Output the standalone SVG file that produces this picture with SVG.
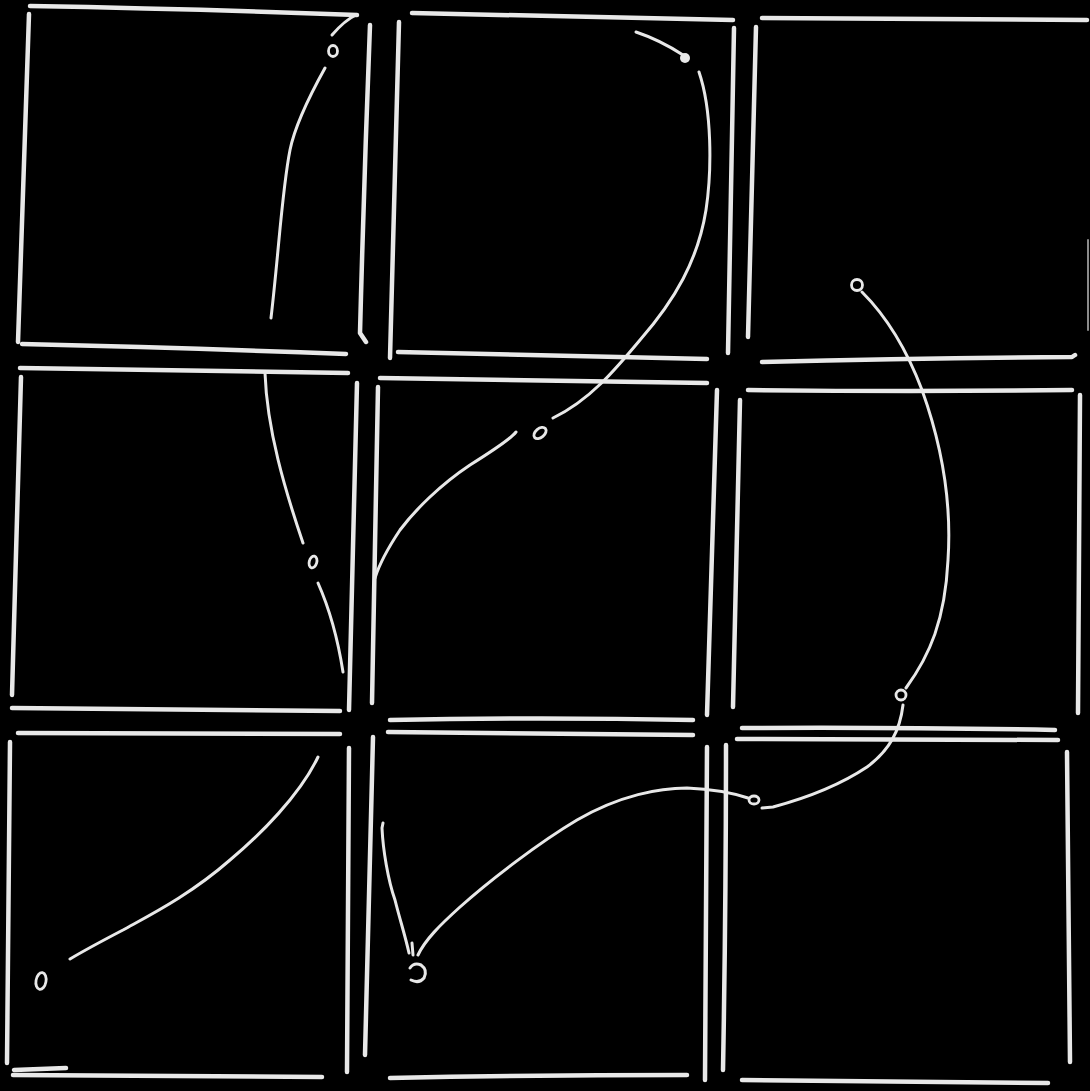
<svg xmlns="http://www.w3.org/2000/svg" width="1090" height="1091" viewBox="0 0 1090 1091">
  <style>
    .ln { fill: none; stroke: #e8e8e8; stroke-width: 4.5; stroke-linecap: round; stroke-linejoin: round; }
    .cv { fill: none; stroke: #e8e8e8; stroke-width: 3; stroke-linecap: round; stroke-linejoin: round; }
    .dot { fill: none; stroke: #e8e8e8; stroke-width: 2.8; }
  </style>
  <rect x="0" y="0" width="1090" height="1091" fill="#000"/>

  <g id="cell-1" class="ln">
    <path d="M30,6 Q200,9 357,15"/>
    <path d="M29,14 Q24,180 18,342"/>
    <path d="M22,344 Q190,348 346,354"/>
    <path d="M370,25 Q364,180 360,333 L366,342"/>
  </g>
  <g id="cell-2" class="ln">
    <path d="M412,13 Q580,16 733,20"/>
    <path d="M399,22 Q394,190 390,358"/>
    <path d="M398,352 Q560,356 707,359"/>
    <path d="M734,28 Q731,190 728,353"/>
  </g>
  <g id="cell-3" class="ln">
    <path d="M762,18 Q920,19 1087,20"/>
    <path d="M756,27 Q752,180 748,337"/>
    <path d="M762,362 Q920,358 1072,357 L1075,355"/>
    <path d="M1088,240 L1088,330" stroke-width="2" opacity="0.6"/>
  </g>
  <g id="cell-4" class="ln">
    <path d="M20,368 Q180,370 348,373"/>
    <path d="M21,377 Q16,540 12,695"/>
    <path d="M12,708 Q180,709 340,711"/>
    <path d="M357,383 Q353,550 349,710"/>
  </g>
  <g id="cell-5" class="ln">
    <path d="M380,378 Q540,380 707,383"/>
    <path d="M378,387 Q375,545 372,703"/>
    <path d="M717,390 Q712,550 707,715"/>
    <path d="M390,720 Q540,717 693,720"/>
  </g>
  <g id="cell-6" class="ln">
    <path d="M748,390 Q910,392 1072,390"/>
    <path d="M740,400 Q737,555 733,707"/>
    <path d="M1080,395 Q1079,555 1078,713"/>
    <path d="M742,728 Q900,727 1055,730"/>
  </g>
  <g id="cell-7" class="ln">
    <path d="M18,733 Q180,733 340,734"/>
    <path d="M10,742 Q8,900 7,1063"/>
    <path d="M349,748 Q348,910 347,1072"/>
    <path d="M13,1075 Q170,1076 322,1077"/>
    <path d="M14,1070 L66,1068"/>
  </g>
  <g id="cell-8" class="ln">
    <path d="M388,732 Q540,734 693,735"/>
    <path d="M373,737 Q369,895 365,1055"/>
    <path d="M707,747 Q706,915 705,1080"/>
    <path d="M390,1078 Q540,1075 687,1075"/>
  </g>
  <g id="cell-9" class="ln">
    <path d="M737,739 Q900,739 1058,740"/>
    <path d="M726,745 Q726,905 723,1070"/>
    <path d="M1067,752 Q1069,905 1070,1062"/>
    <path d="M742,1080 Q895,1081 1048,1083"/>
  </g>

  <g id="connectors">
    <!-- top-left curve -->
    <path class="cv" d="M356,15 Q345,20 332,35"/>
    <ellipse class="dot" cx="333" cy="51" rx="4.5" ry="5.5"/>
    <path class="cv" d="M325,68 C310,95 295,125 290,150 C282,190 279,250 271,318"/>
    <!-- middle-left curve -->
    <path class="cv" d="M265,373 C267,430 285,490 303,543"/>
    <ellipse class="dot" cx="313" cy="562" rx="3.8" ry="6" transform="rotate(15 313 562)"/>
    <path class="cv" d="M318,583 C330,610 338,640 343,672"/>
    <!-- long S-curve from top-middle -->
    <path class="cv" d="M636,32 Q660,40 683,55"/>
    <circle cx="685" cy="58" r="5" fill="#e8e8e8"/>
    <path class="cv" d="M699,72 C712,110 712,170 706,210 C698,260 675,300 640,340 C615,370 590,400 553,418"/>
    <ellipse class="dot" cx="540" cy="433" rx="7" ry="4.5" transform="rotate(-40 540 433)"/>
    <path class="cv" d="M516,432 Q510,440 470,465 C440,485 415,510 400,530 C388,548 380,562 375,578"/>
    <!-- right arc -->
    <circle class="dot" cx="857" cy="285" r="5.5"/>
    <path class="cv" d="M862,292 C885,315 905,345 922,390 C940,440 952,500 948,560 C945,620 930,655 906,688"/>
    <circle class="dot" cx="901" cy="695" r="5"/>
    <path class="cv" d="M903,705 C900,730 890,750 867,767 C840,785 810,797 773,807 L762,808"/>
    <ellipse class="dot" cx="754" cy="800" rx="5" ry="4"/>
    <path class="cv" d="M748,798 C730,792 710,789 687,788 C660,788 620,795 577,820 C540,842 490,880 460,907 C440,925 425,940 418,955"/>
    <!-- V in bottom-middle -->
    <path class="cv" d="M383,823 L382,828 C383,850 388,880 395,900 C400,920 405,935 409,953"/>
    <path class="cv" d="M412,943 L413,955" stroke-width="2"/>
    <path class="cv" d="M410,968 Q414,962 421,965 Q428,970 424,978 Q419,984 411,980"/>
    <!-- bottom-left curve -->
    <path class="cv" d="M318,757 C300,795 260,835 230,860 C190,895 150,915 123,930 C100,942 85,950 70,959"/>
    <ellipse class="dot" cx="41" cy="981" rx="5" ry="8.5" transform="rotate(10 41 981)"/>
  </g>
</svg>
